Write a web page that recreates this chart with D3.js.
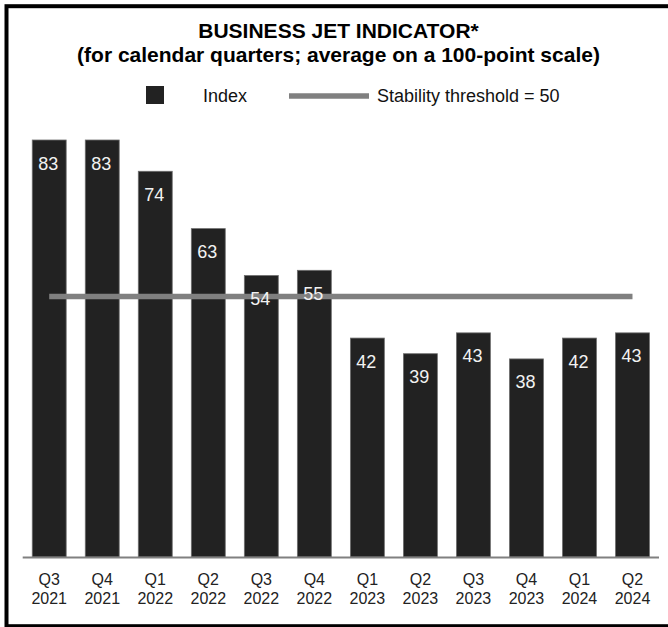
<!DOCTYPE html>
<html>
<head>
<meta charset="utf-8">
<script src="https://cdn.jsdelivr.net/npm/d3@7"></script>
<style>
  html, body { margin: 0; padding: 0; background: #fff; }
  svg { display: block; font-family: "Liberation Sans", Arial, sans-serif; }
</style>
</head>
<body>
<svg id="chart" width="668" height="627"></svg>
<script>
const quarters = ["Q3", "Q4", "Q1", "Q2", "Q3", "Q4", "Q1", "Q2", "Q3", "Q4", "Q1", "Q2"];
const years = ["2021", "2021", "2022", "2022", "2022", "2022", "2023", "2023", "2023", "2023", "2024", "2024"];
const indexValues = [83, 83, 74, 63, 54, 55, 42, 39, 43, 38, 42, 43];
const threshold = 50;
const titleLines = ["BUSINESS JET INDICATOR*", "(for calendar quarters; average on a 100-point scale)"];
const legendLabels = ["Index", "Stability threshold = 50"];

const svg = d3.select("#chart");
const categories = quarters.map((q, i) => q + " " + years[i]);

// frame
svg.append("rect")
  .attr("x", 6.5).attr("y", 6.2)
  .attr("width", 680).attr("height", 620)
  .attr("fill", "none").attr("stroke", "#000").attr("stroke-width", 4);

// title
const cx = 338.5;
svg.append("text").attr("x", cx).attr("y", 38)
  .attr("text-anchor", "middle").attr("font-weight", "bold").attr("font-size", 21)
  .attr("fill", "#000").text(titleLines[0]);
svg.append("text").attr("x", cx).attr("y", 62)
  .attr("text-anchor", "middle").attr("font-weight", "bold").attr("font-size", 21)
  .attr("fill", "#000").text(titleLines[1]);

// legend
const lg = svg.append("g");
lg.append("rect").attr("x", 146).attr("y", 86).attr("width", 18).attr("height", 18).attr("fill", "#222");
lg.append("text").attr("x", 203).attr("y", 102).attr("font-size", 18).attr("fill", "#111").text(legendLabels[0]);
lg.append("line").attr("x1", 289).attr("x2", 369).attr("y1", 96).attr("y2", 96)
  .attr("stroke", "#808080").attr("stroke-width", 5.5);
lg.append("text").attr("x", 377).attr("y", 102).attr("font-size", 18).attr("fill", "#111").text(legendLabels[1]);

// scales
const x = d3.scaleBand().domain(categories).range([22.7, 659]).paddingInner(0.36).paddingOuter(0.18);
const y = d3.scaleLinear().domain([0, 80]).range([557, 140]).clamp(true);

// bars
svg.append("g").selectAll("rect").data(indexValues).join("rect")
  .attr("x", (d, i) => x(categories[i]))
  .attr("y", d => y(d))
  .attr("width", x.bandwidth())
  .attr("height", d => y(0) - y(d))
  .attr("fill", "#222")
  .attr("stroke", "#6e6e6e").attr("stroke-width", 0.8);

// axis baseline
svg.append("line")
  .attr("x1", x.range()[0]).attr("x2", x.range()[1])
  .attr("y1", y(0) + 0.5).attr("y2", y(0) + 0.5)
  .attr("stroke", "#808080").attr("stroke-width", 2);

// threshold line
svg.append("line")
  .attr("x1", x(categories[0]) + x.bandwidth() / 2)
  .attr("x2", x(categories[categories.length - 1]) + x.bandwidth() / 2)
  .attr("y1", y(threshold)).attr("y2", y(threshold))
  .attr("stroke", "#808080").attr("stroke-width", 5.5);

// value labels
svg.append("g").selectAll("text").data(indexValues).join("text")
  .attr("x", (d, i) => x(categories[i]) + x.bandwidth() / 2 - 1)
  .attr("y", d => y(d) + 29.5)
  .attr("text-anchor", "middle")
  .attr("font-size", 18)
  .attr("fill", "#f2f2f2")
  .text(d => d);

// x labels
const xl = svg.append("g").selectAll("text").data(categories).join("text")
  .attr("text-anchor", "middle")
  .attr("font-size", 16)
  .attr("fill", "#222");
xl.append("tspan")
  .attr("x", (d) => x(d) + x.bandwidth() / 2).attr("y", 585)
  .text((d, i) => quarters[i]);
xl.append("tspan")
  .attr("x", (d) => x(d) + x.bandwidth() / 2).attr("y", 604)
  .text((d, i) => years[i]);
</script>
</body>
</html>
